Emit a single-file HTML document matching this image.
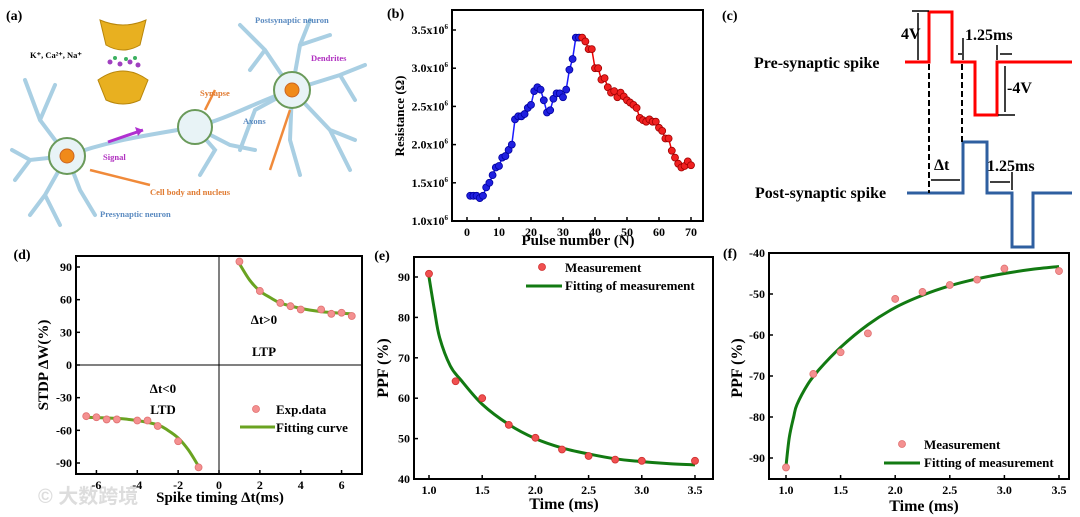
<!DOCTYPE html>
<html><head><meta charset="utf-8">
<style>
html,body{margin:0;padding:0;background:#fff;}
svg{display:block;font-family:"Liberation Serif",serif;font-weight:bold;}
</style></head>
<body>
<svg id="fig" width="1080" height="517" viewBox="0 0 1080 517" xmlns="http://www.w3.org/2000/svg">
<g id="panel-a">
  <text x="6" y="20" font-size="14">(a)</text>
  <g stroke="#a9cfe3" stroke-width="4" fill="none" stroke-linecap="round">
    <path d="M67,156 L40,120 L25,80 M40,120 L55,85 M67,156 L30,160 L12,150 M30,160 L15,180 M67,156 L45,195 L30,215 M45,195 L60,225 M67,156 L80,190 L95,215"/>
    <path d="M67,156 C110,140 150,135 195,127 C230,118 260,100 292,90"/>
    <path d="M292,90 L265,50 L240,25 M265,50 L250,70 M292,90 L300,45 L310,20 M300,45 L330,35 M292,90 L340,75 L365,65 M340,75 L355,100 M292,90 L330,130 L350,170 M330,130 L355,140 M292,90 L290,140 L300,175 M292,90 L255,110 L240,150"/>
    <path d="M195,127 L215,150 L200,175 M195,127 L230,145 L255,150"/>
  </g>
  <circle cx="67" cy="156" r="18" fill="#e8f3f6" stroke="#6a9a5a" stroke-width="2"/>
  <circle cx="67" cy="156" r="7" fill="#f08a1a" stroke="#c62"/>
  <circle cx="195" cy="127" r="17" fill="#e8f3f6" stroke="#6a9a5a" stroke-width="2"/>
  <circle cx="292" cy="90" r="18" fill="#e8f3f6" stroke="#6a9a5a" stroke-width="2"/>
  <circle cx="292" cy="90" r="7" fill="#f08a1a" stroke="#c62"/>
  <path d="M100,20 Q123,30 146,20 L140,45 Q123,55 106,45 Z" fill="#e8b020" stroke="#b8860b"/>
  <path d="M98,80 Q123,62 148,80 L140,100 Q123,108 106,100 Z" fill="#e8b020" stroke="#b8860b"/>
  <g fill="#a040c0"><circle cx="110" cy="62" r="2.5"/><circle cx="120" cy="64" r="2.5"/><circle cx="130" cy="62" r="2.5"/><circle cx="138" cy="65" r="2.5"/></g>
  <g fill="#3cb060"><circle cx="115" cy="58" r="2"/><circle cx="126" cy="59" r="2"/><circle cx="135" cy="58" r="2"/></g>
  <path d="M108,142 L143,130" stroke="#b030d0" stroke-width="3"/>
  <path d="M143,130 L135,127 L138,136 Z" fill="#b030d0"/>
  <g stroke="#f08a3a" stroke-width="2.5">
    <line x1="215" y1="90" x2="205" y2="110"/><line x1="150" y1="185" x2="90" y2="170"/><line x1="270" y1="170" x2="290" y2="110"/>
  </g>
  <g font-size="8.5">
    <text x="30" y="58" fill="#000">K⁺, Ca²⁺, Na⁺</text>
    <text x="255" y="23" fill="#5a8ac0">Postsynaptic neuron</text>
    <text x="311" y="61" fill="#b030c0">Dendrites</text>
    <text x="200" y="96" fill="#e07a30">Synapse</text>
    <text x="243" y="124" fill="#5a8ac0">Axons</text>
    <text x="103" y="160" fill="#b030c0">Signal</text>
    <text x="150" y="195" fill="#e07a30">Cell body and nucleus</text>
    <text x="100" y="217" fill="#5a8ac0">Presynaptic neuron</text>
  </g>
</g>
<g id="panel-c">
  <text x="722" y="20" font-size="14">(c)</text>
  <text x="754" y="68" font-size="16">Pre-synaptic spike</text>
  <text x="755" y="198" font-size="16">Post-synaptic spike</text>
  <path d="M905,62 H929 V12 H952 V62 H975 V115 H997 V62 H1072" fill="none" stroke="#f00" stroke-width="3"/>
  <path d="M907,193 H963 V142 H987 V193 H1012 V247 H1033 V193 H1072" fill="none" stroke="#2f5fa0" stroke-width="3"/>
  <g stroke="#000" stroke-width="2" stroke-dasharray="6,3"><line x1="929" y1="64" x2="929" y2="193"/><line x1="962" y1="64" x2="962" y2="142"/></g>
  <g stroke="#000" stroke-width="1.5" fill="none">
    <line x1="912" y1="11" x2="929" y2="11"/><line x1="918" y1="13" x2="918" y2="60"/>
    <line x1="963" y1="38" x2="963" y2="60"/><line x1="997" y1="45" x2="997" y2="60"/>
    <line x1="958" y1="54" x2="962" y2="54"/><line x1="1000" y1="54" x2="1012" y2="54"/>
    <line x1="998" y1="115" x2="1015" y2="115"/><line x1="1005" y1="66" x2="1005" y2="112"/>
    <line x1="931" y1="180" x2="960" y2="180"/><line x1="990" y1="182" x2="1010" y2="182"/><line x1="1012" y1="172" x2="1012" y2="190"/>
  </g>
  <g font-size="16">
    <text x="901" y="39">4V</text>
    <text x="965" y="40">1.25ms</text>
    <text x="1007" y="93">-4V</text>
    <text x="934" y="170">Δt</text>
    <text x="987" y="171">1.25ms</text>
  </g>
</g>
<text x="38" y="503" font-size="20" fill="#ddd" font-family="Liberation Sans,Noto Sans CJK SC,sans-serif">© 大数跨境</text>
</svg>
<script>
const bPulseBlue=[1,2,3,4,5,6,7,8,9,10,11,12,13,14,15,16,17,18,19,20,21,22,23,24,25,26,27,28,29,30,31,32,33,34,35];
const bResBlue=[1.33,1.33,1.33,1.30,1.33,1.44,1.50,1.60,1.70,1.72,1.83,1.85,1.93,2.00,2.33,2.37,2.37,2.40,2.48,2.52,2.70,2.75,2.72,2.58,2.42,2.45,2.60,2.67,2.67,2.62,2.72,2.98,3.12,3.40,3.40];
const bPulseRed=[36,37,38,39,40,41,42,43,44,45,46,47,48,49,50,51,52,53,54,55,56,57,58,59,60,61,62,63,64,65,66,67,68,69,70];
const bResRed=[3.40,3.35,3.25,3.25,3.00,3.00,2.85,2.87,2.75,2.68,2.70,2.62,2.68,2.63,2.58,2.55,2.52,2.48,2.35,2.32,2.30,2.33,2.30,2.30,2.22,2.18,2.08,2.08,1.92,1.83,1.75,1.70,1.72,1.78,1.73];
const bXTicks=[0,10,20,30,40,50,60,70];
const bYTicks=[1.0,1.5,2.0,2.5,3.0,3.5];
const dLtpX=[1,2,3,3.5,4,5,5.5,6,6.5];
const dLtpY=[95,68,57,54,51,51,47,48,45];
const dLtdX=[-6.5,-6,-5.5,-5,-4,-3.5,-3,-2,-1];
const dLtdY=[-47,-48,-50,-50,-51,-51,-56,-70,-94];
const dLtpFitX=[1,1.5,2,2.5,3,4,5,6,6.5];
const dLtpFitY=[93,78,68,62,57,52,49,47.5,47];
const dLtdFitX=[-6.5,-5,-4,-3,-2.5,-2,-1.5,-1];
const dLtdFitY=[-48,-49,-51,-55,-60,-67,-78,-93];
const dXTicks=[-6,-4,-2,0,2,4,6];
const dYTicks=[-90,-60,-30,0,30,60,90];
const eTime=[1,1.25,1.5,1.75,2,2.25,2.5,2.75,3,3.5];
const ePPF=[90.8,64.2,60,53.4,50.2,47.3,45.7,44.8,44.5,44.5];
const eFitX=[1,1.05,1.1,1.2,1.3,1.5,1.75,2,2.25,2.5,2.75,3,3.25,3.5];
const eFitY=[90,82,75,68,64.5,58.5,53.5,50,47.7,46.2,45,44.3,43.8,43.5];
const eXTicks=[1.0,1.5,2.0,2.5,3.0,3.5];
const eYTicks=[40,50,60,70,80,90];
const fTime=[1,1.25,1.5,1.75,2,2.25,2.5,2.75,3,3.5];
const fPPF=[-92.3,-69.5,-64.2,-59.6,-51.2,-49.5,-47.8,-46.5,-43.8,-44.4];
const fFitX=[1,1.03,1.07,1.1,1.2,1.3,1.5,1.75,2,2.25,2.5,2.75,3,3.25,3.5];
const fFitY=[-92,-85,-80,-77,-72,-68.5,-63,-57.5,-53.3,-50.3,-48,-46.3,-45,-44,-43.3];
const fXTicks=[1.0,1.5,2.0,2.5,3.0,3.5];
const fYTicks=[-90,-80,-70,-60,-50,-40];

const NS='http://www.w3.org/2000/svg';
const svg=document.getElementById('fig');
function mk(tag,attrs,parent){const e=document.createElementNS(NS,tag);for(const k in attrs)e.setAttribute(k,attrs[k]);(parent||svg).appendChild(e);return e;}
function scale(d0,d1,r0,r1){return v=>r0+(v-d0)/(d1-d0)*(r1-r0);}
function smooth(pts){let d='M'+pts[0][0]+','+pts[0][1];for(let i=0;i<pts.length-1;i++){const p0=pts[i-1]||pts[i],p1=pts[i],p2=pts[i+1],p3=pts[i+2]||p2;const c1=[p1[0]+(p2[0]-p0[0])/6,p1[1]+(p2[1]-p0[1])/6],c2=[p2[0]-(p3[0]-p1[0])/6,p2[1]-(p3[1]-p1[1])/6];d+=' C'+c1[0]+','+c1[1]+' '+c2[0]+','+c2[1]+' '+p2[0]+','+p2[1];}return d;}
function axes(g,box,xs,ys,xt,yt,fmtX,fmtY){
  const fr=mk('rect',{x:box.x0,y:box.y0,width:box.x1-box.x0,height:box.y1-box.y0,fill:'none',stroke:'#000','stroke-width':2},g);
  
  
  xt.forEach(v=>{const x=xs(v);mk('line',{x1:x,y1:box.y1,x2:x,y2:box.y1-4,stroke:'#000','stroke-width':1.5},g);
    const t=mk('text',{x:x,y:box.y1+15,'font-size':12,'text-anchor':'middle'},g);t.textContent=fmtX(v);
    
    });
  yt.forEach(v=>{const y=ys(v);mk('line',{x1:box.x0,y1:y,x2:box.x0+4,y2:y,stroke:'#000','stroke-width':1.5},g);
    const t=mk('text',{x:box.x0-4,y:y+4,'font-size':12,'text-anchor':'end'},g);t.innerHTML=fmtY(v);
    
    });
}
function title(g,x,y,txt,rot,size,name){const t=mk('text',{x:x,y:y,'font-size':size||14,'text-anchor':'middle',transform:rot?`rotate(-90 ${x} ${y})`:''},g);t.textContent=txt;
  
  return t;}
function dot(g,x,y,fill,stroke,r){const c=mk('circle',{cx:x,cy:y,r:r||3.5,fill:fill,stroke:stroke,'stroke-width':0.8},g);
  
  return c;}

(function(){
  const g=mk('g',{});
  
  
  const box={x0:452,x1:703,y0:10,y1:221};
  const xs=scale(0,70,467,691), ys=scale(1.0,3.5,221,30);
  axes(g,box,xs,ys,bXTicks,bYTicks,v=>v,v=>v.toFixed(1)+'x10<tspan font-size="7" dy="-5">6</tspan>');
  title(g,387,18,'(b)',false,14,'panel-b-label').setAttribute('text-anchor','start');
  title(g,578,245,'Pulse number (N)',false,15,'x-axis-title');
  title(g,404,116,'Resistance (Ω)',true,13,'y-axis-title');
  const bl=mk('path',{d:'M'+bPulseBlue.map((p,i)=>xs(p)+','+ys(bResBlue[i])).join(' L'),fill:'none',stroke:'#1a1aff','stroke-width':1.5},g);
  
  
  const rl=mk('path',{d:'M'+bPulseRed.map((p,i)=>xs(p)+','+ys(bResRed[i])).join(' L'),fill:'none',stroke:'#e00','stroke-width':1.5},g);
  
  
  bPulseBlue.forEach((p,i)=>dot(g,xs(p),ys(bResBlue[i]),'#2020e0','#0000a0',3.5));
  bPulseRed.forEach((p,i)=>dot(g,xs(p),ys(bResRed[i]),'#f02020','#a00000',3.5));
})();

(function(){
  const g=mk('g',{});
  
  
  const box={x0:76,x1:362,y0:256,y1:474};
  const xs=scale(-7,7,76,362), ys=scale(-90,90,463,267);
  axes(g,box,xs,ys,dXTicks,dYTicks,v=>v,v=>v);
  mk('line',{x1:xs(0),y1:box.y0,x2:xs(0),y2:box.y1,stroke:'#000','stroke-width':1},g);
  mk('line',{x1:box.x0,y1:ys(0),x2:box.x1,y2:ys(0),stroke:'#000','stroke-width':1},g);
  title(g,22,259,'(d)',false,14,'panel-d-label');
  title(g,220,502,'Spike timing Δt(ms)',false,15,'x-axis-title');
  title(g,48,365,'STDP ΔW(%)',true,15,'y-axis-title');
  [['Δt>0',264,324],['LTP',264,356],['Δt<0',163,393],['LTD',163,414]].forEach(a=>title(g,a[1],a[2],a[0],false,13,'region-label'));
  const f1=mk('path',{d:smooth(dLtpFitX.map((x,i)=>[xs(x),ys(dLtpFitY[i])])),fill:'none',stroke:'#6aa321','stroke-width':3},g);
  
  
  const f2=mk('path',{d:smooth(dLtdFitX.map((x,i)=>[xs(x),ys(dLtdFitY[i])])),fill:'none',stroke:'#6aa321','stroke-width':3},g);
  
  
  dLtpX.forEach((x,i)=>dot(g,xs(x),ys(dLtpY[i]),'#f49090','#e07070',3.5));
  dLtdX.forEach((x,i)=>dot(g,xs(x),ys(dLtdY[i]),'#f49090','#e07070',3.5));
  dot(g,256,409,'#f49090','#e07070',3.5);
  mk('line',{x1:240,y1:427,x2:275,y2:427,stroke:'#6aa321','stroke-width':3},g);
  title(g,276,414,'Exp.data',false,13,'legend-exp-data').setAttribute('text-anchor','start');
  title(g,276,432,'Fitting curve',false,13,'legend-fitting-curve').setAttribute('text-anchor','start');
})();

(function(){
  const g=mk('g',{});
  
  
  const box={x0:414,x1:713,y0:257,y1:479};
  const xs=scale(1.0,3.5,429,695), ys=scale(40,90,479,277);
  axes(g,box,xs,ys,eXTicks,eYTicks,v=>v.toFixed(1),v=>v);
  title(g,382,260,'(e)',false,14,'panel-e-label');
  title(g,564,509,'Time (ms)',false,16,'x-axis-title');
  title(g,388,368,'PPF (%)',true,16,'y-axis-title');
  const f=mk('path',{d:smooth(eFitX.map((x,i)=>[xs(x),ys(eFitY[i])])),fill:'none',stroke:'#127a12','stroke-width':3},g);
  
  
  eTime.forEach((x,i)=>dot(g,xs(x),ys(ePPF[i]),'#f05050','#d03030',3.5));
  dot(g,542,267,'#f05050','#d03030',3.5);
  mk('line',{x1:526,y1:286,x2:562,y2:286,stroke:'#127a12','stroke-width':3},g);
  title(g,565,272,'Measurement',false,13,'legend-measurement').setAttribute('text-anchor','start');
  title(g,565,290,'Fitting of measurement',false,13,'legend-fitting').setAttribute('text-anchor','start');
})();

(function(){
  const g=mk('g',{});
  
  
  const box={x0:769,x1:1069,y0:253,y1:479};
  const xs=scale(1.0,3.5,786,1059), ys=scale(-90,-40,458,253);
  axes(g,box,xs,ys,fXTicks,fYTicks,v=>v.toFixed(1),v=>v);
  title(g,730,258,'(f)',false,14,'panel-f-label');
  title(g,924,511,'Time (ms)',false,16,'x-axis-title');
  title(g,742,368,'PPF (%)',true,16,'y-axis-title');
  const f=mk('path',{d:smooth(fFitX.map((x,i)=>[xs(x),ys(fFitY[i])])),fill:'none',stroke:'#127a12','stroke-width':3},g);
  
  
  fTime.forEach((x,i)=>dot(g,xs(x),ys(fPPF[i]),'#f49090','#e07070',3.5));
  dot(g,902,444,'#f49090','#e07070',3.5);
  mk('line',{x1:884,y1:463,x2:920,y2:463,stroke:'#127a12','stroke-width':3},g);
  title(g,924,449,'Measurement',false,13,'legend-measurement').setAttribute('text-anchor','start');
  title(g,924,467,'Fitting of measurement',false,13,'legend-fitting').setAttribute('text-anchor','start');
})();
</script>
</body></html>
